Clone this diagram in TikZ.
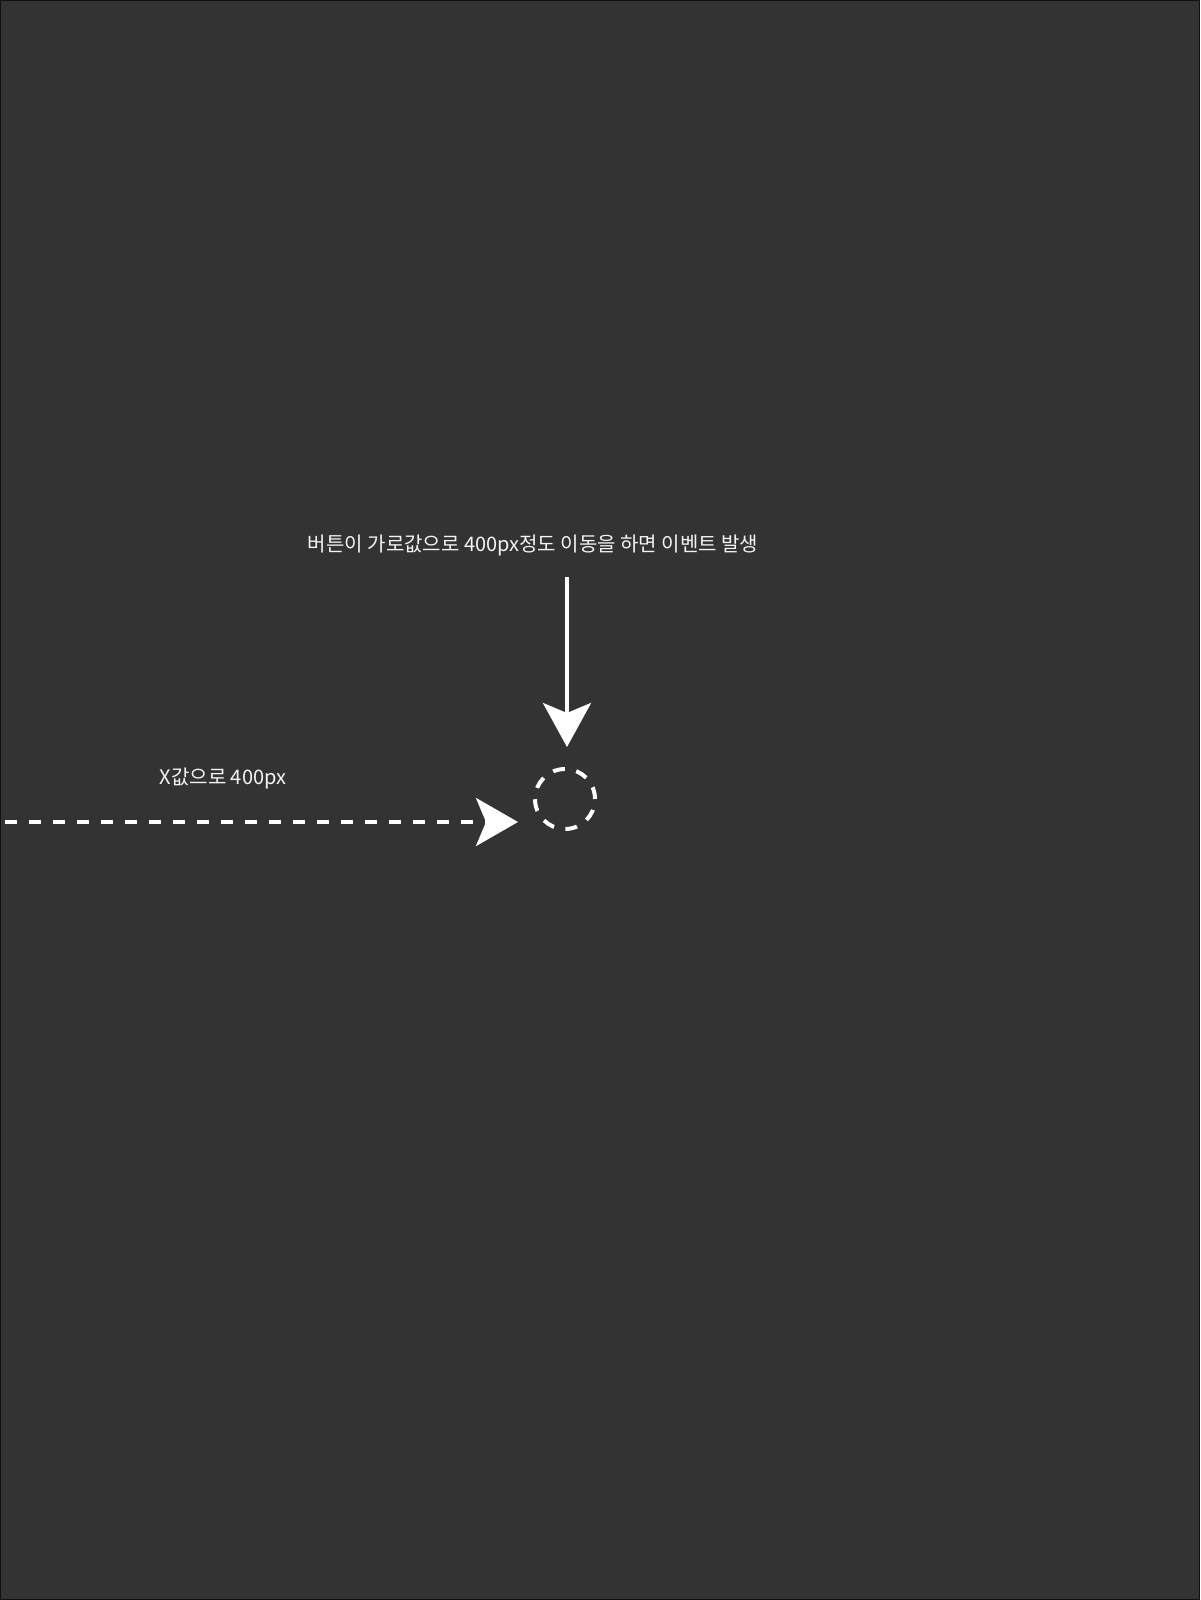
\documentclass[tikz,border=0pt]{standalone}
\usepackage{fontspec}
\newfontfamily\krfont{Noto Sans CJK KR}
\usetikzlibrary{arrows.meta,positioning}
\definecolor{bgdark}{HTML}{333333}
\definecolor{framedark}{HTML}{111111}
\definecolor{textwhite}{HTML}{F4F4F4}

\begin{document}
\begin{tikzpicture}[x=0.5pt,y=-0.5pt,
	%one unit is one pixel of the screen
	note/.style={font=\krfont\fontsize{10}{12}\selectfont,text=textwhite,inner sep=0pt},
	]
	\fill[bgdark] (0,0) rectangle (1200,1600);
	\draw[framedark,line width=0.5pt] (0.5,0.5) rectangle (1199.5,1599.5);
	\useasboundingbox (0,0) rectangle (1200,1600);
	
	\node[note] at (533,546) (event) {버튼이 가로값으로 400px정도 이동을 하면 이벤트 발생};
	\node[note] at (223,779) (move) {X값으로 400px};
	\node[circle,draw=white,line width=2pt,dash pattern=on 6pt off 5.8pt,minimum size=30pt,inner sep=0pt] at (565,799) (button) {};
	
	\coordinate (eventtop) at (567,577);
	\coordinate (eventtip) at (567,747);
	\coordinate (movestart) at (5,822);
	\coordinate (movetip) at (518,822);
	
	\path[-{Stealth[length=22pt,width=24pt,inset=5pt]},white,line width=2pt] (eventtop) edge (eventtip);
	\path[-{Stealth[length=21pt,width=24pt,inset=5pt]},white,line width=2pt,dash pattern=on 6pt off 6pt] (movestart) edge (movetip);
\end{tikzpicture}
\end{document}
